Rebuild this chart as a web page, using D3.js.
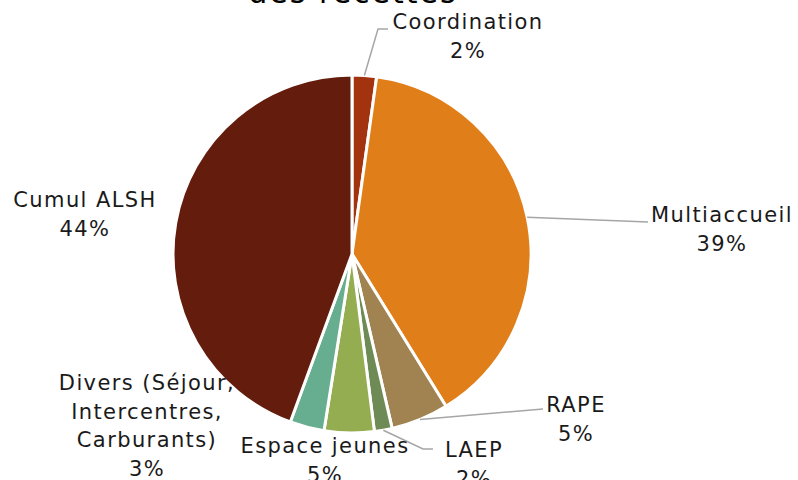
<!DOCTYPE html>
<html><head><meta charset="utf-8">
<script src="https://cdn.jsdelivr.net/npm/d3@7"></script>
<style>html,body{margin:0;padding:0;background:#fff;}svg{display:block;}</style>
</head><body>
<svg id="c" width="798" height="480"></svg>
<script>
const categories = ["Coordination","Multiaccueil","RAPE","LAEP","Espace jeunes","Divers (Séjour, Intercentres, Carburants)","Cumul ALSH"];
const values = [2.2, 39.0, 5.2, 1.6, 4.5, 3.1, 44.4];
const pctLabels = ["2%","39%","5%","2%","5%","3%","44%"];
const labelLines = [["Coordination"],["Multiaccueil"],["RAPE"],["LAEP"],["Espace jeunes"],["Divers (Séjour,","Intercentres,","Carburants)"],["Cumul ALSH"]];
const colors = ["#A3320F","#E07F1A","#A08350","#6E8A55","#94AD50","#66AE8F","#641D0D"];
const titleText = "des recettes";

// layout: label centre x, first baseline y, leader line points (after the arc point)
const layout = [
  {x:468, y:29, line:[[378,29],[388,29]]},
  {x:722, y:222, line:[[648,222]]},
  {x:576, y:412, line:[[543,409]]},
  {x:474, y:457, line:[[423,449],[433,449]]},
  {x:325, y:453, line:null},
  {x:147, y:390, line:null},
  {x:85, y:207, line:null}
];

const svg = d3.select("#c");
const cx = 352, cy = 254, R = 179;
const font = "'DejaVu Sans', sans-serif";

svg.append("text").attr("x", cx + 1).attr("y", 3).attr("text-anchor","middle")
  .attr("font-family", font).attr("font-size", 30).attr("letter-spacing", 2).attr("fill","#000").text(titleText);

const pie = d3.pie().sort(null).value(d => d)(values);
const arc = d3.arc().innerRadius(0).outerRadius(R);
const g = svg.append("g").attr("transform", `translate(${cx},${cy})`);
g.selectAll("path").data(pie).join("path")
  .attr("d", arc).attr("fill", (d,i) => colors[i])
  .attr("stroke", "#fff").attr("stroke-width", 3).attr("stroke-linejoin","round");

// leader lines
pie.forEach((d,i) => {
  const L = layout[i];
  if (!L.line) return;
  const a = (d.startAngle + d.endAngle)/2;
  const p0 = [cx + R*Math.sin(a), cy - R*Math.cos(a)];
  const pts = [p0].concat(L.line);
  svg.append("path").attr("d", d3.line()(pts))
    .attr("fill","none").attr("stroke","#A6A6A6").attr("stroke-width",1.5);
});

// labels
pie.forEach((d,i) => {
  const L = layout[i];
  const t = svg.append("text").attr("text-anchor","middle")
    .attr("font-family", font).attr("font-size", 21).attr("letter-spacing", 1.4).attr("fill","#1a1a1a");
  const lines = labelLines[i].concat([pctLabels[i]]);
  lines.forEach((s,k) => {
    t.append("tspan").attr("x", L.x).attr("y", L.y + k*28.5).text(s);
  });
});
</script>
</body></html>
